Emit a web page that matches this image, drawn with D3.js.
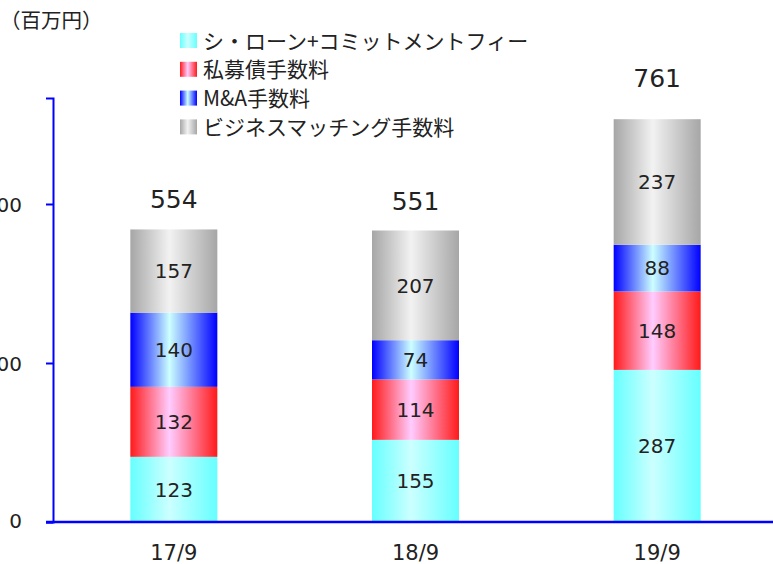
<!DOCTYPE html>
<html>
<head>
<meta charset="utf-8">
<script src="https://cdn.jsdelivr.net/npm/d3@7"></script>
<style>
  body { margin: 0; background: #fff; }
  svg { display: block; }
  text { fill: #222; }
  .num { font-family: "DejaVu Sans", Verdana, sans-serif; }
  .jp { font-family: "Noto Sans CJK JP", "Noto Sans", sans-serif; }
</style>
</head>
<body>
<svg id="chart" width="773" height="564"></svg>
<script>
// chart values
const categories = ['17/9', '18/9', '19/9'];
const seriesNames = ['シ・ローン+コミットメントフィー', '私募債手数料', 'M&A手数料', 'ビジネスマッチング手数料'];
const loanFee = [123, 155, 287];
const bondFee = [132, 114, 148];
const maFee = [140, 74, 88];
const matchingFee = [157, 207, 237];
const totals = [554, 551, 761];
const yTicks = [0, 300, 600];
const unitLabel = '（百万円）';

// gradient stops per series: edge colour, centre colour
const palette = [
    { edge: '#66ffff', mid: '#ccffff' },
    { edge: '#ff1a1a', mid: '#ffccff' },
    { edge: '#0000ff', mid: '#ccffff' },
    { edge: '#a6a6a6', mid: '#f2f2f2' }
];

const svg = d3.select('#chart');
const defs = svg.append('defs');

palette.forEach((p, i) => {
    const g = defs.append('linearGradient')
        .attr('id', 'grad' + i)
        .attr('x1', '0%').attr('x2', '100%')
        .attr('y1', '0%').attr('y2', '0%');
    g.append('stop').attr('offset', '0%').attr('stop-color', p.edge);
    g.append('stop').attr('offset', '45%').attr('stop-color', p.mid);
    g.append('stop').attr('offset', '100%').attr('stop-color', p.edge);
});

const series = [loanFee, bondFee, maFee, matchingFee];
const rows = categories.map((c, i) => {
    const r = { cat: c };
    series.forEach((s, k) => { r['s' + k] = s[i]; });
    return r;
});
const keys = series.map((s, k) => 's' + k);
const stacked = d3.stack().keys(keys)(rows);

const axisX = 53, baseY = 522;

const x = d3.scaleBand()
    .domain(categories)
    .range([axisX, 778])
    .padding(0);
const barW = 87;

const y = d3.scaleLinear()
    .domain([0, 800])
    .range([baseY, 98]);

// y axis
const yAxis = d3.axisLeft(y).tickValues(yTicks).tickSize(7).tickFormat(d3.format('d'));
const yg = svg.append('g')
    .attr('transform', `translate(${axisX},0)`)
    .call(yAxis);
yg.select('.domain').attr('stroke', '#0000ff').attr('stroke-width', 2);
yg.selectAll('.tick line').attr('stroke', '#0000ff').attr('stroke-width', 2);
yg.selectAll('.tick text')
    .attr('class', 'num')
    .attr('x', -31)
    .attr('dy', '0.35em')
    .style('font-size', '20px')
    .style('fill', '#222');
yg.selectAll('.tick').filter(d => d === 0).select('text').attr('dy', '0.25em');

// bars
const layers = svg.append('g').selectAll('g')
    .data(stacked)
    .join('g')
    .attr('fill', (d, i) => `url(#grad${i})`);

layers.selectAll('rect')
    .data(d => d)
    .join('rect')
    .attr('x', d => x(d.data.cat) + x.bandwidth() / 2 - barW / 2)
    .attr('width', barW)
    .attr('y', d => y(d[1]))
    .attr('height', d => y(d[0]) - y(d[1]));

// segment labels
stacked.forEach(layer => {
    svg.append('g').selectAll('text')
        .data(layer)
        .join('text')
        .attr('class', 'num')
        .attr('x', d => x(d.data.cat) + x.bandwidth() / 2)
        .attr('y', d => y((d[0] + d[1]) / 2))
        .attr('dy', '0.36em')
        .attr('text-anchor', 'middle')
        .style('font-size', '20px')
        .text(d => d[1] - d[0]);
});

// totals, set a little above each stack
svg.append('g').selectAll('text')
    .data(categories)
    .join('text')
    .attr('class', 'num')
    .attr('x', d => x(d) + x.bandwidth() / 2)
    .attr('y', (d, i) => y(totals[i] * 1.1))
    .attr('dy', '0.36em')
    .attr('text-anchor', 'middle')
    .style('font-size', '25px')
    .text((d, i) => totals[i]);

// x axis baseline
svg.append('line')
    .attr('x1', 46).attr('x2', 773)
    .attr('y1', baseY).attr('y2', baseY)
    .attr('stroke', '#0000ff')
    .attr('stroke-width', 2.5);

// category labels
svg.append('g').selectAll('text')
    .data(categories)
    .join('text')
    .attr('class', 'num')
    .attr('x', d => x(d) + x.bandwidth() / 2)
    .attr('y', 560)
    .attr('text-anchor', 'middle')
    .style('font-size', '21px')
    .text(d => d);

// unit label
svg.append('text')
    .attr('class', 'jp')
    .attr('x', 0)
    .attr('y', 28)
    .style('font-size', '20.5px')
    .text(unitLabel);

// legend
const legend = svg.append('g').attr('transform', 'translate(180,33)');
const item = legend.selectAll('g')
    .data(seriesNames)
    .join('g')
    .attr('transform', (d, i) => `translate(0,${i * 28.8})`);
item.append('rect')
    .attr('width', 17)
    .attr('height', 15)
    .attr('fill', (d, i) => `url(#grad${i})`);
item.append('text')
    .attr('class', 'jp')
    .attr('x', 23)
    .attr('y', 8)
    .attr('dy', '0.36em')
    .style('font-size', '21px')
    .text(d => d);
</script>
</body>
</html>
